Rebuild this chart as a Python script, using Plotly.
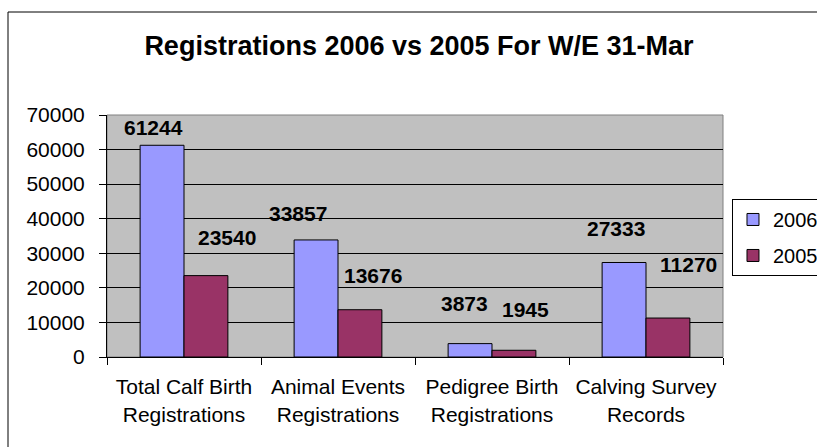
import plotly.graph_objects as go

categories = ["Total Calf Birth<br>Registrations", "Animal Events<br>Registrations",
              "Pedigree Birth<br>Registrations", "Calving Survey<br>Records"]
values_2006 = [61244, 33857, 3873, 27333]
values_2005 = [23540, 13676, 1945, 11270]
y_ticks = [0, 10000, 20000, 30000, 40000, 50000, 60000, 70000]

# label offsets in pixels (relative to category centre / bar top)
off_2006 = [(-31, 18), (-40, 26), (-28, 40), (-30, 34)]
off_2005 = [(43, 38), (35, 34), (33, 41), (42, 54)]

FONT = "Liberation Sans, Arial, sans-serif"
C06 = "#9999FF"
C05 = "#993366"

fig = go.Figure()
fig.add_trace(go.Bar(x=categories, y=values_2006, name="2006", legendgroup="a",
                     marker=dict(color=C06, line=dict(color="black", width=1))))
fig.add_trace(go.Bar(x=categories, y=values_2005, name="2005", legendgroup="b",
                     marker=dict(color=C05, line=dict(color="black", width=1))))

for cat, v, (dx, dy) in zip(categories, values_2006, off_2006):
    fig.add_annotation(x=cat, y=v, text=str(v), showarrow=False, xshift=dx, yshift=dy,
                       font=dict(family=FONT, size=21, color="black", weight="bold"))
for cat, v, (dx, dy) in zip(categories, values_2005, off_2005):
    fig.add_annotation(x=cat, y=v, text=str(v), showarrow=False, xshift=dx, yshift=dy,
                       font=dict(family=FONT, size=21, color="black", weight="bold"))

# chart area border
fig.add_shape(type="rect", xref="paper", yref="paper", x0=-0.1607, x1=1.3, y0=-0.6, y1=1.4256,
              line=dict(color="black", width=1), fillcolor="rgba(0,0,0,0)", layer="below")
# plot area frame (top/right)
fig.add_shape(type="rect", xref="paper", yref="paper", x0=0, x1=1, y0=0, y1=1,
              line=dict(color="#808080", width=1), fillcolor="rgba(0,0,0,0)", layer="below")

fig.update_layout(
    width=817, height=447,
    margin=dict(l=107, r=94, t=115, b=90, autoexpand=False),
    paper_bgcolor="white", plot_bgcolor="#C0C0C0",
    barmode="group", bargap=0.43, bargroupgap=0,
    title=dict(text="<b>Registrations 2006 vs 2005 For W/E 31-Mar</b>", x=419 / 817, xanchor="center",
               y=1 - 46 / 447, yanchor="middle", font=dict(family=FONT, size=27, color="black")),
    font=dict(family=FONT, size=21, color="black"),
    legend=dict(x=1.0146, xanchor="left", y=0.653, yanchor="top", bgcolor="white",
                bordercolor="black", borderwidth=1, font=dict(family=FONT, size=20, color="black"),
                traceorder="grouped", tracegroupgap=7),
    showlegend=True,
)
fig.update_xaxes(type="category", tickson="boundaries", ticks="outside", ticklen=7, tickcolor="black",
                 showline=True, linecolor="black", linewidth=1, showgrid=False, tickangle=0,
                 automargin=False,
                 tickfont=dict(family=FONT, size=21, color="black"), ticklabelstandoff=11)
fig.update_yaxes(range=[0, 70000], tickvals=y_ticks, ticktext=[str(t) for t in y_ticks],
                 ticks="outside", ticklen=7, tickcolor="black", showline=True, linecolor="black",
                 linewidth=1, showgrid=True, gridcolor="black", gridwidth=1, zeroline=False,
                 automargin=False,
                 tickfont=dict(family=FONT, size=21, color="black"), ticklabelstandoff=10)

fig.write_html("out.html", config={"displayModeBar": False},
               post_script="document.body.style.margin='0';document.body.style.overflow='hidden';")
